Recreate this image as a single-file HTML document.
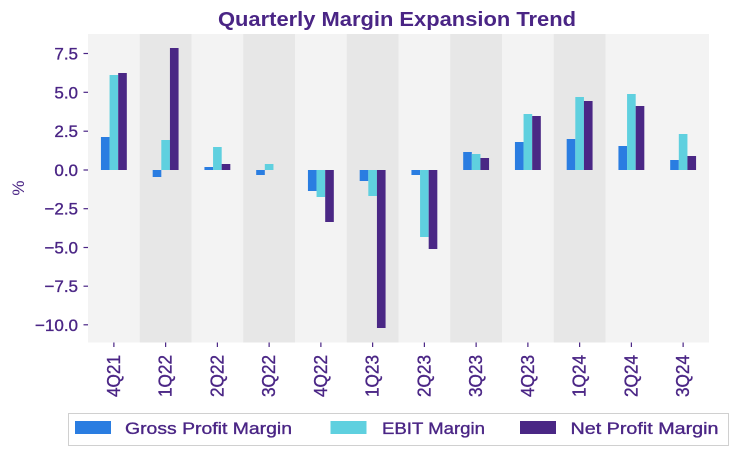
<!DOCTYPE html>
<html><head><meta charset="utf-8"><style>
html,body{margin:0;padding:0;background:#fff;}
svg{display:block;}
text{font-family:"Liberation Sans",sans-serif;fill:#4a2585;}
.m{stroke:#4a2585;stroke-width:0.35px;}
</style></head><body>
<svg width="737" height="455" viewBox="0 0 737 455" xmlns="http://www.w3.org/2000/svg">
<rect width="737" height="455" fill="#fff"/>
<text x="397" y="26" text-anchor="middle" font-size="20" font-weight="bold" textLength="358" lengthAdjust="spacingAndGlyphs">Quarterly Margin Expansion Trend</text>
<!-- bands -->
<g>
<rect x="88" y="34" width="621" height="308.5" fill="#f3f3f3"/>
<rect x="139.75" y="34" width="51.75" height="308.5" fill="#e7e7e7"/>
<rect x="243.25" y="34" width="51.75" height="308.5" fill="#e7e7e7"/>
<rect x="346.75" y="34" width="51.75" height="308.5" fill="#e7e7e7"/>
<rect x="450.25" y="34" width="51.75" height="308.5" fill="#e7e7e7"/>
<rect x="553.75" y="34" width="51.75" height="308.5" fill="#e7e7e7"/>
</g>
<!-- gross -->
<g fill="#2a7de1">
<rect x="100.94" y="137" width="8.63" height="33"/>
<rect x="152.69" y="170" width="8.63" height="7"/>
<rect x="204.44" y="167" width="8.63" height="3"/>
<rect x="256.19" y="170" width="8.63" height="5"/>
<rect x="307.94" y="170" width="8.63" height="21"/>
<rect x="359.69" y="170" width="8.63" height="11"/>
<rect x="411.44" y="170" width="8.63" height="5"/>
<rect x="463.19" y="152" width="8.63" height="18"/>
<rect x="514.94" y="142" width="8.63" height="28"/>
<rect x="566.69" y="139" width="8.63" height="31"/>
<rect x="618.44" y="146" width="8.63" height="24"/>
<rect x="670.19" y="160" width="8.63" height="10"/>
</g>
<!-- ebit -->
<g fill="#5fd0df">
<rect x="109.56" y="75" width="8.63" height="95"/>
<rect x="161.31" y="140" width="8.63" height="30"/>
<rect x="213.06" y="147" width="8.63" height="23"/>
<rect x="264.81" y="164" width="8.63" height="6"/>
<rect x="316.56" y="170" width="8.63" height="27"/>
<rect x="368.31" y="170" width="8.63" height="26"/>
<rect x="420.06" y="170" width="8.63" height="67"/>
<rect x="471.81" y="154" width="8.63" height="16"/>
<rect x="523.56" y="114" width="8.63" height="56"/>
<rect x="575.31" y="97" width="8.63" height="73"/>
<rect x="627.06" y="94" width="8.63" height="76"/>
<rect x="678.81" y="134" width="8.63" height="36"/>
</g>
<!-- net -->
<g fill="#4a2785">
<rect x="118.19" y="73" width="8.63" height="97"/>
<rect x="169.94" y="48" width="8.63" height="122"/>
<rect x="221.69" y="164" width="8.63" height="6"/>
<rect x="325.19" y="170" width="8.63" height="52"/>
<rect x="376.94" y="170" width="8.63" height="158"/>
<rect x="428.69" y="170" width="8.63" height="79"/>
<rect x="480.44" y="158" width="8.63" height="12"/>
<rect x="532.19" y="116" width="8.63" height="54"/>
<rect x="583.94" y="101" width="8.63" height="69"/>
<rect x="635.69" y="106" width="8.63" height="64"/>
<rect x="687.44" y="156" width="8.63" height="14"/>
</g>
<!-- y ticks -->
<g stroke="#4a2585" stroke-width="1.2">
<line x1="83.5" x2="88" y1="53.5" y2="53.5"/>
<line x1="83.5" x2="88" y1="92.3" y2="92.3"/>
<line x1="83.5" x2="88" y1="131.2" y2="131.2"/>
<line x1="83.5" x2="88" y1="170" y2="170"/>
<line x1="83.5" x2="88" y1="208.7" y2="208.7"/>
<line x1="83.5" x2="88" y1="247.5" y2="247.5"/>
<line x1="83.5" x2="88" y1="286.2" y2="286.2"/>
<line x1="83.5" x2="88" y1="324.8" y2="324.8"/>
</g>
<g font-size="17" text-anchor="end" class="m">
<text x="78" y="59.5">7.5</text>
<text x="78" y="98.3">5.0</text>
<text x="78" y="137.2">2.5</text>
<text x="78" y="176">0.0</text>
<text x="78" y="214.7">−2.5</text>
<text x="78" y="253.5">−5.0</text>
<text x="78" y="292.2">−7.5</text>
<text x="78" y="330.8">−10.0</text>
</g>
<text transform="translate(24,188) rotate(-90)" text-anchor="middle" font-size="17">%</text>
<!-- x ticks -->
<g stroke="#4a2585" stroke-width="1.2">
<line x1="113.88" x2="113.88" y1="342.5" y2="347"/>
<line x1="165.63" x2="165.63" y1="342.5" y2="347"/>
<line x1="217.38" x2="217.38" y1="342.5" y2="347"/>
<line x1="269.13" x2="269.13" y1="342.5" y2="347"/>
<line x1="320.88" x2="320.88" y1="342.5" y2="347"/>
<line x1="372.63" x2="372.63" y1="342.5" y2="347"/>
<line x1="424.38" x2="424.38" y1="342.5" y2="347"/>
<line x1="476.13" x2="476.13" y1="342.5" y2="347"/>
<line x1="527.88" x2="527.88" y1="342.5" y2="347"/>
<line x1="579.63" x2="579.63" y1="342.5" y2="347"/>
<line x1="631.38" x2="631.38" y1="342.5" y2="347"/>
<line x1="683.13" x2="683.13" y1="342.5" y2="347"/>
</g>
<g font-size="18" text-anchor="end" class="m">
<text transform="translate(119.8,355) rotate(-90)" textLength="42" lengthAdjust="spacingAndGlyphs">4Q21</text>
<text transform="translate(171.5,355) rotate(-90)" textLength="42" lengthAdjust="spacingAndGlyphs">1Q22</text>
<text transform="translate(223.3,355) rotate(-90)" textLength="42" lengthAdjust="spacingAndGlyphs">2Q22</text>
<text transform="translate(275,355) rotate(-90)" textLength="42" lengthAdjust="spacingAndGlyphs">3Q22</text>
<text transform="translate(326.8,355) rotate(-90)" textLength="42" lengthAdjust="spacingAndGlyphs">4Q22</text>
<text transform="translate(378.5,355) rotate(-90)" textLength="42" lengthAdjust="spacingAndGlyphs">1Q23</text>
<text transform="translate(430.3,355) rotate(-90)" textLength="42" lengthAdjust="spacingAndGlyphs">2Q23</text>
<text transform="translate(482,355) rotate(-90)" textLength="42" lengthAdjust="spacingAndGlyphs">3Q23</text>
<text transform="translate(533.8,355) rotate(-90)" textLength="42" lengthAdjust="spacingAndGlyphs">4Q23</text>
<text transform="translate(585.5,355) rotate(-90)" textLength="42" lengthAdjust="spacingAndGlyphs">1Q24</text>
<text transform="translate(637.3,355) rotate(-90)" textLength="42" lengthAdjust="spacingAndGlyphs">2Q24</text>
<text transform="translate(689,355) rotate(-90)" textLength="42" lengthAdjust="spacingAndGlyphs">3Q24</text>
</g>
<!-- legend -->
<rect x="68.5" y="413.5" width="660" height="32" fill="#fff" stroke="#d0d0d0" stroke-width="1"/>
<rect x="75" y="421" width="36" height="13" fill="#2a7de1"/>
<rect x="330.5" y="421" width="36" height="13" fill="#5fd0df"/>
<rect x="520" y="421" width="36" height="13" fill="#4a2785"/>
<g font-size="17" class="m">
<text x="125" y="434" textLength="167" lengthAdjust="spacingAndGlyphs">Gross Profit Margin</text>
<text x="382" y="434" textLength="103" lengthAdjust="spacingAndGlyphs">EBIT Margin</text>
<text x="570.5" y="434" textLength="148" lengthAdjust="spacingAndGlyphs">Net Profit Margin</text>
</g>
</svg>
</body></html>
